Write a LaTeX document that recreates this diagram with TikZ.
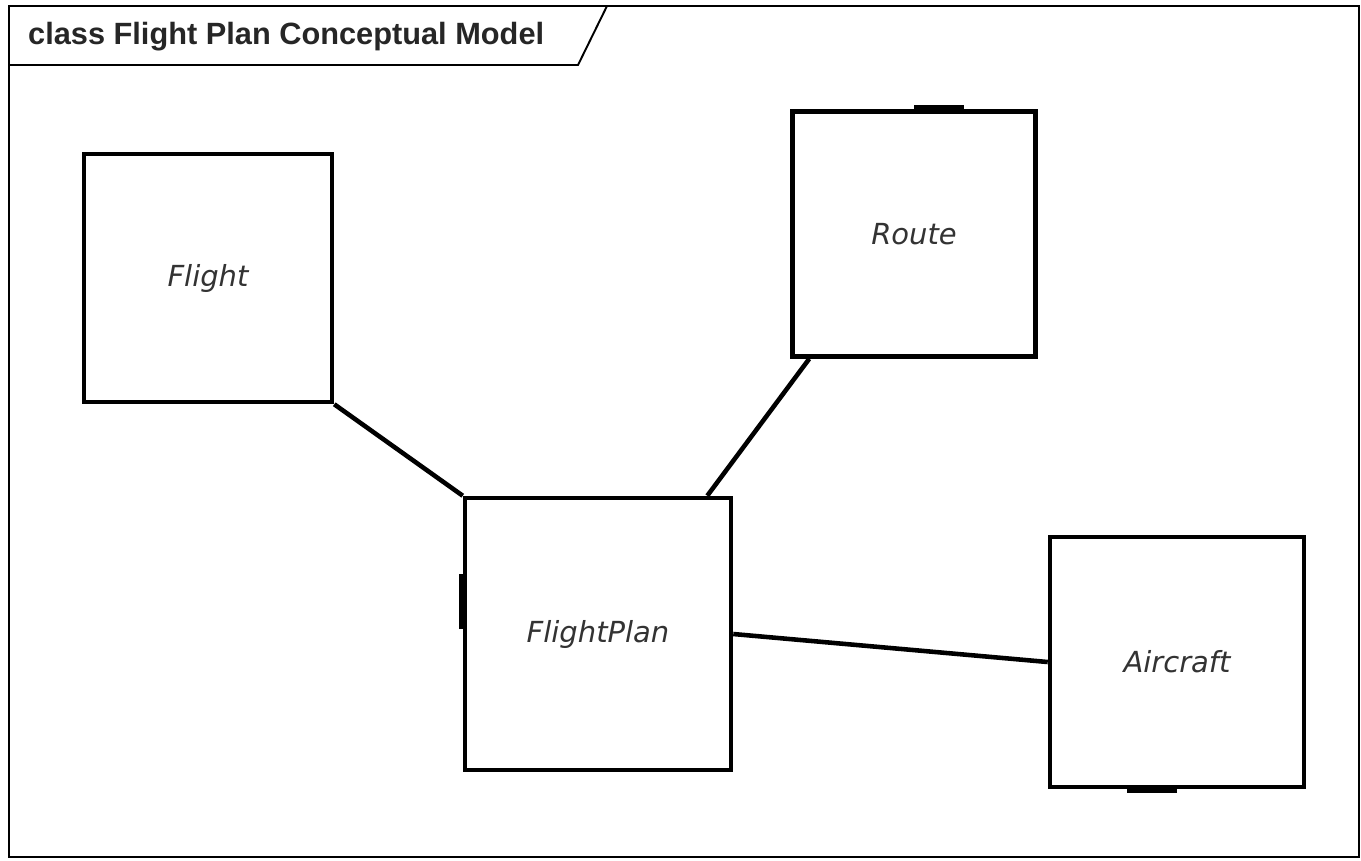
\documentclass[tikz,border=0pt]{standalone}
\usepackage{fontspec}
\setsansfont{Liberation Sans}
\newfontfamily\handfont{DejaVu Sans}
\usepackage{tikz}
\usetikzlibrary{arrows, shapes, positioning}

\begin{document}
\begin{tikzpicture}[x=0.02cm, y=-0.02cm,
    cls/.style={draw, line width=2.6pt, fill=white, inner sep=0pt,
        font=\handfont\itshape\fontsize{16.5}{18}\selectfont, text=black!80},
    assoc/.style={line width=2.6pt, black},
    endmark/.style={line width=4.6pt, black},
    frameline/.style={line width=1.1pt, black}]
\useasboundingbox (0,0) rectangle (1361,860);
% frame and title tab
\draw [frameline] (9,6) rectangle (1359,857);
\draw [frameline] (9,65) -- (578,65) -- (607,6);
\node [anchor=west, font=\sffamily\bfseries\fontsize{17.5}{20}\selectfont, text=black!85] (title) at (22,37) {class Flight Plan Conceptual Model};

% classes
\node [cls, minimum width=4.96cm, minimum height=4.96cm] (flight) at (208,278) {Flight};
\node [cls, minimum width=4.86cm, minimum height=4.9cm] (route) at (914,234) {Route};
\node [cls, minimum width=5.32cm, minimum height=5.44cm] (plan) at (598,634) {FlightPlan};
\node [cls, minimum width=5.08cm, minimum height=5.0cm] (aircraft) at (1177,662) {Aircraft};

% associations
\draw [assoc] (flight.south east) -- (plan.north west);
\draw [assoc] ([xshift=0.38cm]route.south west) -- ([xshift=-0.52cm]plan.north east);
\draw [assoc] (plan.east) -- (aircraft.west);

% association ends
\draw [endmark] (route.north) -- ([xshift=1cm]route.north);
\draw [endmark] ([yshift=0.1cm]plan.west) -- ([yshift=1.2cm]plan.west);
\draw [endmark] (aircraft.south) -- ([xshift=-1cm]aircraft.south);
\end{tikzpicture}
\end{document}
